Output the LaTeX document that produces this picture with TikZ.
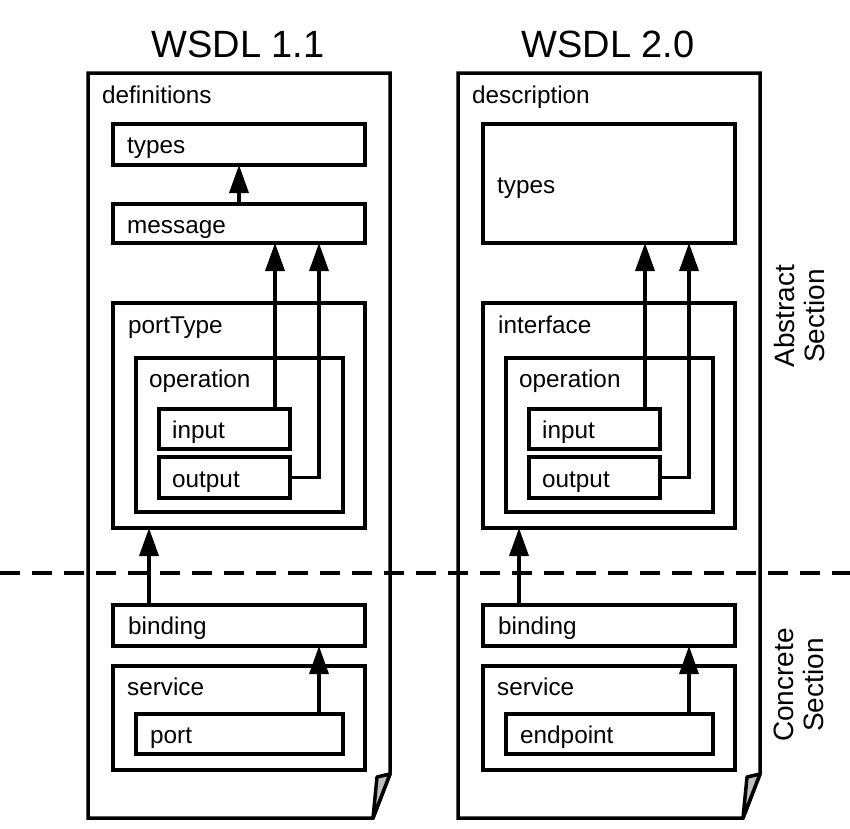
\documentclass[tikz,border=0pt]{standalone}
\usepackage{fontspec}
\setmainfont{Liberation Sans}
\usetikzlibrary{arrows.meta,calc}
\tikzset{
  x=1pt,y=-1pt,
  bx/.style={draw,line width=3.5pt,anchor=north west,inner sep=0,outer sep=0},
  lbl/.style={anchor=base west,inner sep=0,font=\fontsize{24.3}{28}\selectfont},
  arr/.style={line width=3.5pt,-{Triangle[length=28pt,width=19pt]}},
  page/.style={draw,line width=3.5pt,line join=miter,fill=white},
  curl/.style={draw,line width=3.5pt,line join=round,fill=black!25},
  sect/.style={rotate=90,align=center,inner sep=0,font=\fontsize{28}{30}\selectfont},
  ttl/.style={anchor=base,inner sep=0,font=\fontsize{38}{44}\selectfont},
  sep/.style={line width=3.5pt,dash pattern=on 20pt off 12pt}
}
\newcommand{\bxat}[5]{\node[bx,minimum width=#4-#2,minimum height=#5-#3] (#1) at (#2,#3) {};}
\begin{document}
\begin{tikzpicture}
\useasboundingbox (0,0) rectangle (850,828);
% titles
\node[ttl] (t1) at (238,57) {WSDL 1.1};
\node[ttl] (t2) at (608,57) {WSDL 2.0};
% pages
\foreach \o in {0,370}{
  \draw[page] (88+\o,73) -- (390+\o,73) -- (390+\o,774) -- (373+\o,818) -- (88+\o,818) -- cycle;
  \draw[curl] (377+\o,777) -- (390+\o,774) -- (373+\o,818) -- cycle;
}
% ---- WSDL 1.1 ----
\node[lbl] (ldef) at (102,103) {definitions};
\bxat{ltypes}{113}{124}{365}{165}
\node[lbl] (ltypest) at (127,153) {types};
\bxat{lmsg}{113}{204}{365}{243}
\node[lbl] (lmsgt) at (127,233) {message};
\bxat{lpt}{113}{303}{365}{528}
\node[lbl] (lptt) at (128,333) {portType};
\bxat{lop}{136}{358}{343}{512}
\node[lbl] (lopt) at (149,387) {operation};
\bxat{lin}{159}{409}{290}{449}
\node[lbl] (lint) at (172,438) {input};
\bxat{lout}{159}{457}{290}{498}
\node[lbl] (loutt) at (172,487) {output};
\bxat{lbind}{113}{605}{365}{646}
\node[lbl] (lbindt) at (128,634) {binding};
\bxat{lsvc}{113}{666}{365}{770}
\node[lbl] (lsvct) at (127,695) {service};
\bxat{lport}{136}{714}{343}{754}
\node[lbl] (lportt) at (150,743) {port};
% ---- WSDL 2.0 ----
\node[lbl] (rdef) at (472,103) {description};
\bxat{rtypes}{483}{124}{735}{243}
\node[lbl] (rtypest) at (497,193) {types};
\bxat{rint}{483}{303}{735}{528}
\node[lbl] (rintt) at (498,333) {interface};
\bxat{rop}{506}{358}{713}{512}
\node[lbl] (ropt) at (519,387) {operation};
\bxat{rin}{529}{409}{660}{449}
\node[lbl] (rint2) at (542,438) {input};
\bxat{rout}{529}{457}{660}{498}
\node[lbl] (routt) at (542,487) {output};
\bxat{rbind}{483}{605}{735}{646}
\node[lbl] (rbindt) at (498,634) {binding};
\bxat{rsvc}{483}{666}{735}{770}
\node[lbl] (rsvct) at (497,695) {service};
\bxat{rep}{506}{714}{713}{754}
\node[lbl] (rept) at (520,743) {endpoint};
% x positions of connectors
\coordinate (xa) at (239,0);
\coordinate (xb) at (275,0);
\coordinate (xc) at (319,0);
\coordinate (xd) at (149,0);
\coordinate (ya) at (645,0);
\coordinate (yc) at (689,0);
\coordinate (yd) at (519,0);
% connectors WSDL 1.1
\draw[arr] (lmsg.north -| xa) -- (ltypes.south -| xa);
\draw[arr] (lin.north -| xb) -- (lmsg.south -| xb);
\draw[arr] (lout.east) -- (lout.east -| xc) -- (lmsg.south -| xc);
\draw[arr] (lbind.north -| xd) -- (lpt.south -| xd);
\draw[arr] (lport.north -| xc) -- (lbind.south -| xc);
% connectors WSDL 2.0
\draw[arr] (rin.north -| ya) -- (rtypes.south -| ya);
\draw[arr] (rout.east) -- (rout.east -| yc) -- (rtypes.south -| yc);
\draw[arr] (rbind.north -| yd) -- (rint.south -| yd);
\draw[arr] (rep.north -| yc) -- (rbind.south -| yc);
% section labels
\node[sect] (abs) at (799,316) {Abstract\\Section};
\node[sect] (con) at (799,685) {Concrete\\Section};
% separator
\coordinate (sl) at (0,573);
\coordinate (sr) at (850,573);
\draw[sep] (sl) -- (sr);
\end{tikzpicture}
\end{document}
